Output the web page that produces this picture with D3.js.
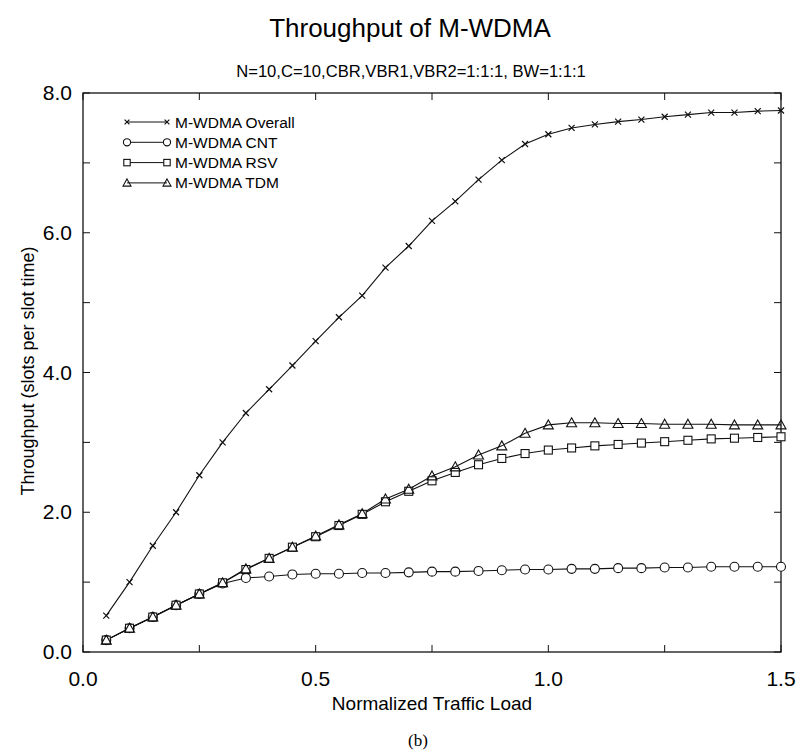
<!DOCTYPE html>
<html>
<head>
<meta charset="utf-8">
<script src="https://cdn.jsdelivr.net/npm/d3@7"></script>
<style>
  body { margin: 0; background: #fff; }
  svg { font-family: "Liberation Sans", Arial, sans-serif; }
</style>
</head>
<body>
<div id="chart"></div>
<script>
// x values: normalized traffic load
var loads = [0.05, 0.1, 0.15, 0.2, 0.25, 0.3, 0.35, 0.4, 0.45, 0.5,
             0.55, 0.6, 0.65, 0.7, 0.75, 0.8, 0.85, 0.9, 0.95, 1.0,
             1.05, 1.1, 1.15, 1.2, 1.25, 1.3, 1.35, 1.4, 1.45, 1.5];

var overall = [0.52, 1.0, 1.52, 2.0, 2.53, 3.0, 3.42, 3.76, 4.1, 4.45,
               4.79, 5.1, 5.5, 5.81, 6.17, 6.45, 6.76, 7.04, 7.27, 7.41,
               7.5, 7.55, 7.59, 7.62, 7.66, 7.69, 7.72, 7.72, 7.74, 7.75];

var cnt = [0.17, 0.34, 0.5, 0.67, 0.83, 0.98, 1.06, 1.08, 1.11, 1.12,
           1.12, 1.13, 1.13, 1.14, 1.15, 1.15, 1.16, 1.17, 1.18, 1.18,
           1.19, 1.19, 1.2, 1.2, 1.21, 1.21, 1.22, 1.22, 1.22, 1.22];

var rsv = [0.17, 0.34, 0.5, 0.67, 0.83, 0.99, 1.18, 1.34, 1.5, 1.65,
           1.81, 1.97, 2.15, 2.3, 2.45, 2.57, 2.68, 2.77, 2.84, 2.89,
           2.92, 2.95, 2.97, 2.99, 3.01, 3.03, 3.05, 3.06, 3.07, 3.08];

var tdm = [0.17, 0.34, 0.5, 0.67, 0.83, 0.99, 1.19, 1.34, 1.5, 1.66,
           1.82, 1.98, 2.19, 2.33, 2.52, 2.65, 2.82, 2.95, 3.13, 3.25,
           3.28, 3.28, 3.27, 3.27, 3.26, 3.26, 3.26, 3.25, 3.25, 3.25];

var seriesNames = ["M-WDMA Overall", "M-WDMA CNT", "M-WDMA RSV", "M-WDMA TDM"];
var seriesMarks = ["cross", "circle", "square", "triangle"];

var xTickLabels = ["0.0", "0.5", "1.0", "1.5"];
var yTickLabels = ["0.0", "2.0", "4.0", "6.0", "8.0"];

var svgWidth = 798, svgHeight = 752;
var margin = { top: 93, right: 17, bottom: 100, left: 83 };
var width = svgWidth - margin.left - margin.right;
var height = svgHeight - margin.top - margin.bottom;

var svg = d3.select("#chart").append("svg")
    .attr("width", svgWidth)
    .attr("height", svgHeight);

var g = svg.append("g")
    .attr("transform", "translate(" + margin.left + "," + margin.top + ")");

var x = d3.scaleLinear().domain([0, 1.5]).range([0, width]);
var y = d3.scaleLinear().domain([0, 8]).range([height, 0]);

// frame
g.append("rect")
    .attr("width", width)
    .attr("height", height)
    .attr("fill", "none")
    .attr("stroke", "#111")
    .attr("stroke-width", 1.3);

// inward ticks on all four sides
var xTicks = d3.range(0, 1.51, 0.25);
var yTicks = d3.range(0, 8.01, 1);
var tickLen = 7;

xTicks.forEach(function(t) {
    g.append("line").attr("x1", x(t)).attr("x2", x(t))
        .attr("y1", height).attr("y2", height - tickLen).attr("stroke", "#111");
    g.append("line").attr("x1", x(t)).attr("x2", x(t))
        .attr("y1", 0).attr("y2", tickLen).attr("stroke", "#111");
});
yTicks.forEach(function(t) {
    g.append("line").attr("x1", 0).attr("x2", tickLen)
        .attr("y1", y(t)).attr("y2", y(t)).attr("stroke", "#111");
    g.append("line").attr("x1", width).attr("x2", width - tickLen)
        .attr("y1", y(t)).attr("y2", y(t)).attr("stroke", "#111");
});

// tick labels
g.selectAll(".xlab")
    .data(xTickLabels)
    .enter().append("text")
    .attr("class", "xlab")
    .attr("x", function(d) { return x(+d); })
    .attr("y", height + 34)
    .attr("text-anchor", "middle")
    .attr("font-size", "21px")
    .text(function(d) { return d; });

g.selectAll(".ylab")
    .data(yTickLabels)
    .enter().append("text")
    .attr("class", "ylab")
    .attr("x", -11)
    .attr("y", function(d) { return y(+d) + 7; })
    .attr("text-anchor", "end")
    .attr("font-size", "21px")
    .text(function(d) { return d; });

// axis titles
g.append("text")
    .attr("x", 432 - margin.left)
    .attr("y", height + 58)
    .attr("text-anchor", "middle")
    .attr("font-size", "19px")
    .text("Normalized Traffic Load");

g.append("text")
    .attr("transform", "rotate(-90)")
    .attr("x", -(371 - margin.top))
    .attr("y", -49)
    .attr("text-anchor", "middle")
    .attr("font-size", "18px")
    .text("Throughput (slots per slot time)");

// titles
svg.append("text")
    .attr("x", 410)
    .attr("y", 37)
    .attr("text-anchor", "middle")
    .attr("font-size", "26px")
    .text("Throughput of M-WDMA");

svg.append("text")
    .attr("x", 411)
    .attr("y", 77)
    .attr("text-anchor", "middle")
    .attr("font-size", "16.6px")
    .text("N=10,C=10,CBR,VBR1,VBR2=1:1:1, BW=1:1:1");

svg.append("text")
    .attr("x", 418)
    .attr("y", 746)
    .attr("text-anchor", "middle")
    .attr("font-family", "Liberation Serif, Times New Roman, serif")
    .attr("font-size", "17px")
    .text("(b)");

// markers
function drawMarker(sel, type, cx, cy, sc) {
    sc = sc || 1;
    if (type === "cross") {
        var s = 3 * sc;
        sel.append("path")
            .attr("d", "M" + (cx - s) + "," + (cy - s) + "L" + (cx + s) + "," + (cy + s) +
                       "M" + (cx - s) + "," + (cy + s) + "L" + (cx + s) + "," + (cy - s))
            .attr("stroke", "#111").attr("stroke-width", 1.2).attr("fill", "none");
    } else if (type === "circle") {
        sel.append("circle").attr("cx", cx).attr("cy", cy).attr("r", 4.5 * sc)
            .attr("stroke", "#111").attr("stroke-width", 1.1).attr("fill", "#fff");
    } else if (type === "square") {
        var h = 4 * sc;
        sel.append("rect").attr("x", cx - h).attr("y", cy - h)
            .attr("width", 2 * h).attr("height", 2 * h)
            .attr("stroke", "#111").attr("stroke-width", 1.1).attr("fill", "#fff");
    } else {
        var t = 5 * sc;
        sel.append("path")
            .attr("d", "M" + cx + "," + (cy - t) + "L" + (cx + t) + "," + (cy + 0.8 * t) +
                       "L" + (cx - t) + "," + (cy + 0.8 * t) + "Z")
            .attr("stroke", "#111").attr("stroke-width", 1.1).attr("fill", "none");
    }
}

var allSeries = [overall, cnt, rsv, tdm];
var line = d3.line()
    .x(function(d, i) { return x(loads[i]); })
    .y(function(d) { return y(d); });

allSeries.forEach(function(vals, k) {
    g.append("path")
        .datum(vals)
        .attr("d", line)
        .attr("fill", "none")
        .attr("stroke", "#111")
        .attr("stroke-width", 1.1);
});
allSeries.forEach(function(vals, k) {
    var mg = g.append("g");
    vals.forEach(function(v, i) {
        drawMarker(mg, seriesMarks[k], x(loads[i]), y(v));
    });
});

// legend
var legend = svg.append("g");
seriesNames.forEach(function(name, k) {
    var ly = 122 + k * 20.3;
    legend.append("line")
        .attr("x1", 127).attr("x2", 167)
        .attr("y1", ly).attr("y2", ly)
        .attr("stroke", "#111").attr("stroke-width", 1);
    drawMarker(legend, seriesMarks[k], 127, ly, 0.8);
    drawMarker(legend, seriesMarks[k], 167, ly, 0.8);
    legend.append("text")
        .attr("x", 175)
        .attr("y", ly + 5.5)
        .attr("font-size", "15.5px")
        .text(name);
});
</script>
</body>
</html>
